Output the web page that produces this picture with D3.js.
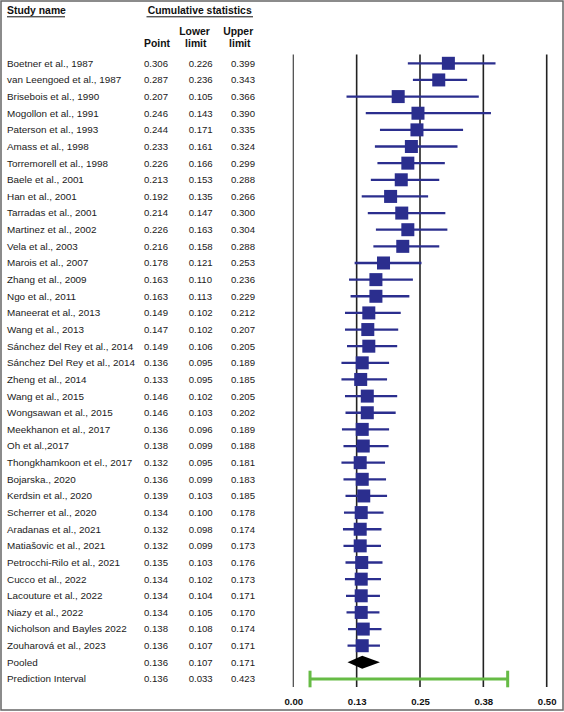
<!DOCTYPE html>
<html>
<head>
<meta charset="utf-8">
<script src="https://cdn.jsdelivr.net/npm/d3@7"></script>
<style>
  html, body { margin: 0; padding: 0; background: #fff; }
  svg { display: block; font-family: "Liberation Sans", Arial, sans-serif; }
</style>
</head>
<body>
<svg id="chart" width="564" height="712"></svg>
<script>
const studies = [
  "Boetner et al., 1987", "van Leengoed et al., 1987", "Brisebois et al., 1990",
  "Mogollon et al., 1991", "Paterson et al., 1993", "Amass et al., 1998",
  "Torremorell et al., 1998", "Baele et al., 2001", "Han et al., 2001",
  "Tarradas et al., 2001", "Martinez et al., 2002", "Vela et al., 2003",
  "Marois et al., 2007", "Zhang et al., 2009", "Ngo et al., 2011",
  "Maneerat et al., 2013", "Wang et al., 2013", "Sánchez del Rey et al., 2014",
  "Sánchez Del Rey et al., 2014", "Zheng et al., 2014", "Wang et al., 2015",
  "Wongsawan et al., 2015", "Meekhanon et al., 2017", "Oh et al.,2017",
  "Thongkhamkoon et el., 2017", "Bojarska., 2020", "Kerdsin et al., 2020",
  "Scherrer et al., 2020", "Aradanas et al., 2021", "Matiašovic et al., 2021",
  "Petrocchi-Rilo et al., 2021", "Cucco et al., 2022", "Lacouture et al., 2022",
  "Niazy et al., 2022", "Nicholson and Bayles 2022", "Zouharová et al., 2023"
];
const point = [0.306,0.287,0.207,0.246,0.244,0.233,0.226,0.213,0.192,0.214,0.226,0.216,
  0.178,0.163,0.163,0.149,0.147,0.149,0.136,0.133,0.146,0.146,0.136,0.138,0.132,0.136,
  0.139,0.134,0.132,0.132,0.135,0.134,0.134,0.134,0.138,0.136];
const lower = [0.226,0.236,0.105,0.143,0.171,0.161,0.166,0.153,0.135,0.147,0.163,0.158,
  0.121,0.110,0.113,0.102,0.102,0.106,0.095,0.095,0.102,0.103,0.096,0.099,0.095,0.099,
  0.103,0.100,0.098,0.099,0.103,0.102,0.104,0.105,0.108,0.107];
const upper = [0.399,0.343,0.366,0.390,0.335,0.324,0.299,0.288,0.266,0.300,0.304,0.288,
  0.253,0.236,0.229,0.212,0.207,0.205,0.189,0.185,0.205,0.202,0.189,0.188,0.181,0.183,
  0.185,0.178,0.174,0.173,0.176,0.173,0.171,0.170,0.174,0.171];
const pooled = {label: "Pooled", point: 0.136, lower: 0.107, upper: 0.171};
const prediction = {label: "Prediction Interval", point: 0.136, lower: 0.033, upper: 0.423};
const tickValues = [0, 0.125, 0.25, 0.375, 0.5];
const tickLabels = ["0.00", "0.13", "0.25", "0.38", "0.50"];

const svg = d3.select("#chart");
const fmt = d3.format(".3f");
const nRows = studies.length + 2;

const x = d3.scaleLinear().domain([0, 0.5]).range([293.3, 546.7]);
const y = d3.scaleLinear().domain([0, nRows - 1]).range([63.3, 679]);

// frame
svg.append("rect").attr("x", 1).attr("y", 1).attr("width", 562).attr("height", 709)
  .attr("fill", "none").attr("stroke", "#666").attr("stroke-width", 1.5);

// headers
const hdr = svg.append("g").attr("font-weight", "bold").attr("font-size", 10.4).attr("fill", "#111");
hdr.append("text").attr("x", 7).attr("y", 14.3).text("Study name");
hdr.append("line").attr("x1", 7).attr("x2", 65).attr("y1", 16.8).attr("y2", 16.8).attr("stroke", "#111").attr("stroke-width", 1);
hdr.append("text").attr("x", 199.7).attr("y", 14.3).attr("text-anchor", "middle").text("Cumulative statistics");
hdr.append("line").attr("x1", 146.5).attr("x2", 253).attr("y1", 16.8).attr("y2", 16.8).attr("stroke", "#111").attr("stroke-width", 1);
hdr.append("text").attr("x", 157).attr("y", 47).attr("text-anchor", "middle").text("Point");
hdr.append("text").attr("x", 194.5).attr("y", 35.3).attr("text-anchor", "middle").text("Lower");
hdr.append("text").attr("x", 195.8).attr("y", 47).attr("text-anchor", "middle").text("limit");
hdr.append("text").attr("x", 238.2).attr("y", 35.3).attr("text-anchor", "middle").text("Upper");
hdr.append("text").attr("x", 239.8).attr("y", 47).attr("text-anchor", "middle").text("limit");

// rows table
const rows = studies.map((s, i) => ({label: s, point: point[i], lower: lower[i], upper: upper[i]}));
const allRows = rows.concat([pooled, prediction]);

const tbl = svg.append("g").attr("font-size", 9.6).attr("fill", "#1a1a1a");
const rg = tbl.selectAll("g.row").data(allRows).join("g")
  .attr("transform", (d, i) => `translate(0,${y(i) + 3.4})`);
rg.append("text").attr("x", 7).attr("font-size", 9.9).text(d => d.label);
rg.append("text").attr("x", 144).text(d => fmt(d.point));
rg.append("text").attr("x", 188.7).text(d => fmt(d.lower));
rg.append("text").attr("x", 231).text(d => fmt(d.upper));

// vertical grid lines
svg.append("g").selectAll("line").data(tickValues).join("line")
  .attr("x1", d => x(d)).attr("x2", d => x(d))
  .attr("y1", 54.5).attr("y2", 687)
  .attr("stroke", (d, i) => i === 0 ? "#444" : "#222")
  .attr("stroke-width", (d, i) => i === 0 ? 1.2 : 1.6);

// axis labels
const axis = d3.axisBottom(x).tickValues(tickValues)
  .tickFormat((d, i) => tickLabels[i]).tickSize(0).tickPadding(0);
const ag = svg.append("g").attr("transform", "translate(0,698)").call(axis);
ag.select(".domain").remove();
ag.selectAll("text").attr("font-size", 9.6).attr("font-weight", "bold")
  .attr("font-family", "Liberation Sans, Arial, sans-serif").attr("fill", "#111");

// study CIs and squares
const blue = "#2b2e8e";
const marks = svg.append("g");
marks.selectAll("line.ci").data(rows).join("line").attr("class", "ci")
  .attr("x1", d => x(d.lower)).attr("x2", d => x(d.upper))
  .attr("y1", (d, i) => y(i)).attr("y2", (d, i) => y(i))
  .attr("stroke", blue).attr("stroke-width", 2.3);
const sq = 13;
marks.selectAll("rect.pt").data(rows).join("rect").attr("class", "pt")
  .attr("x", d => x(d.point) - sq / 2).attr("y", (d, i) => y(i) - sq / 2)
  .attr("width", sq).attr("height", sq).attr("fill", blue);

// pooled diamond
const py = y(studies.length);
svg.append("path")
  .attr("d", `M${x(pooled.lower)},${py} L${x(pooled.point)},${py - 6.5} L${x(pooled.upper)},${py} L${x(pooled.point)},${py + 6.5} Z`)
  .attr("fill", "#000");

// prediction interval
const qy = y(studies.length + 1);
const green = "#66bb45";
svg.append("line").attr("x1", x(prediction.lower)).attr("x2", x(prediction.upper))
  .attr("y1", qy).attr("y2", qy).attr("stroke", green).attr("stroke-width", 2.8);
svg.selectAll("line.cap").data([prediction.lower, prediction.upper]).join("line").attr("class", "cap")
  .attr("x1", d => x(d)).attr("x2", d => x(d))
  .attr("y1", qy - 8.3).attr("y2", qy + 8.3)
  .attr("stroke", green).attr("stroke-width", 3);
</script>
</body>
</html>
